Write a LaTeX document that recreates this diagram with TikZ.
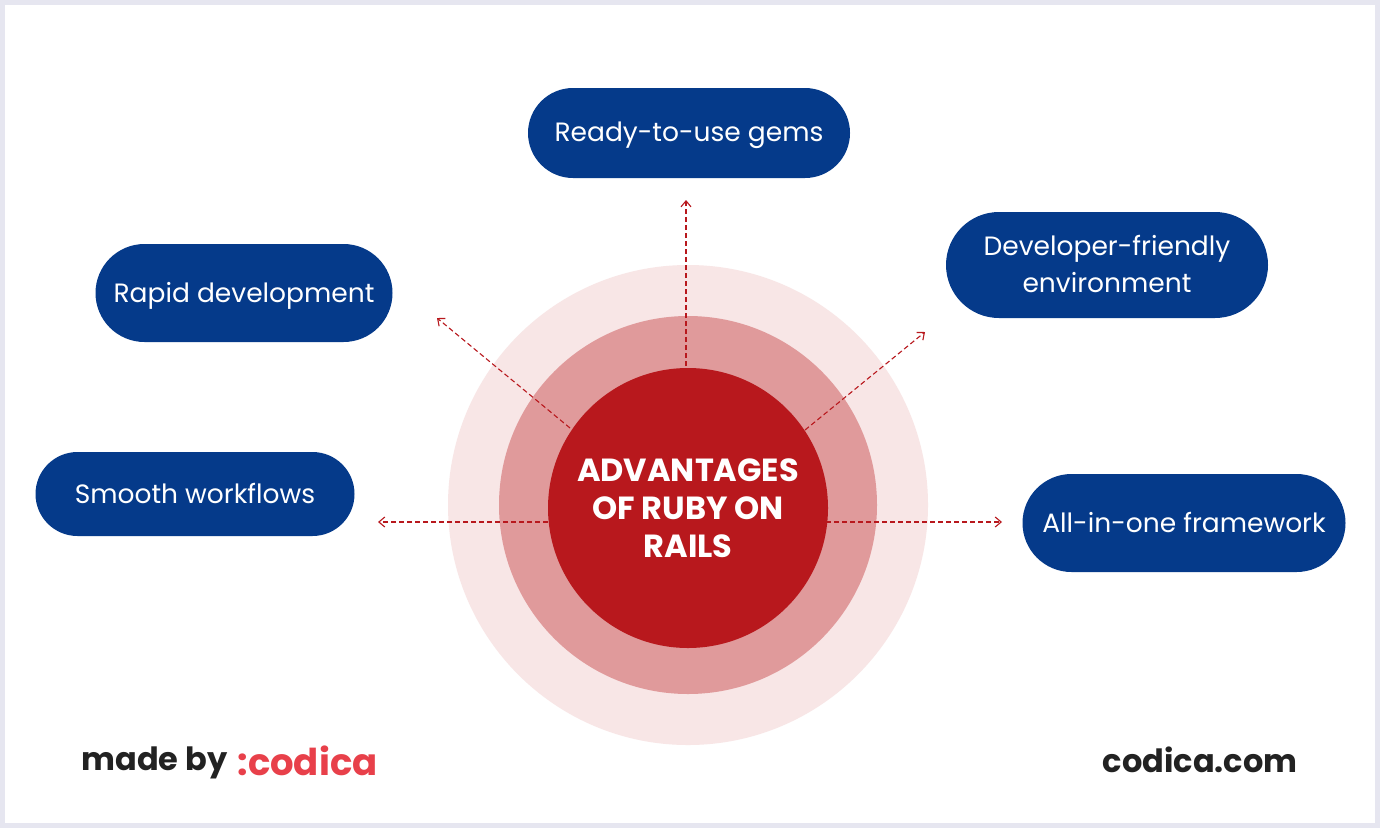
\documentclass[tikz,border=0pt]{standalone}
\usepackage{fontspec}
\setmainfont{Poppins}
\usetikzlibrary{arrows.meta}
\definecolor{frame}{HTML}{E6E6F0}
\definecolor{c1}{HTML}{F8E6E6}
\definecolor{c2}{HTML}{E09A9B}
\definecolor{c3}{HTML}{B8181D}
\definecolor{navy}{HTML}{053A8A}
\definecolor{dark}{HTML}{222222}
\definecolor{codred}{HTML}{E8404A}
\tikzset{
 pill/.style={fill=navy,rounded corners=#1,text=white,font=\fontsize{26.5}{37}\selectfont,align=center,inner sep=0pt,text depth=2pt},
 arr/.style={draw=c3,dashed,dash pattern=on 5pt off 3pt,line width=1.1pt,-{Straight Barb[length=6pt,width=10pt]}}
}
\begin{document}
\begin{tikzpicture}[x=1pt,y=-1pt]
\fill[frame] (0,0) rectangle (1380,828);
\fill[white] (5,5) rectangle (1375,823);
\node[circle,fill=c1,minimum size=480pt,inner sep=0pt] (outer) at (688,505) {};
\node[circle,fill=c2,minimum size=378pt,inner sep=0pt] (mid) at (688,505) {};
\node[circle,fill=c3,minimum size=280pt,inner sep=0pt,text=white,font=\fontsize{32}{38}\selectfont\bfseries,align=center] (core) at (688,508) {ADVANTAGES\\OF RUBY ON\\RAILS};
\node[pill=45pt,minimum width=322pt,minimum height=90pt] (gems) at (689,133) {Ready-to-use gems};
\node[pill=49pt,minimum width=297pt,minimum height=98pt] (rapid) at (244,293) {Rapid development};
\node[pill=53pt,minimum width=322pt,minimum height=106pt] (dev) at (1107,265) {Developer-friendly\\environment};
\node[pill=42pt,minimum width=319pt,minimum height=84pt] (smooth) at (195,494) {Smooth workflows};
\node[pill=49pt,minimum width=323pt,minimum height=98pt] (all) at (1184,523) {All-in-one framework};
\coordinate (eup) at (686,200);
\coordinate (elu) at (437,318);
\coordinate (eru) at (925,332);
\coordinate (el) at (378,522);
\coordinate (er) at (1002,522);
\draw[arr] (686,366) -- (eup);
\draw[arr] (570,428) -- (elu);
\draw[arr] (805,430) -- (eru);
\draw[arr] (548,522) -- (el);
\draw[arr] (826,522) -- (er);
\node[anchor=west,text=dark,font=\fontsize{32}{34}\selectfont\bfseries] (made) at (78,763) {made by};
\node[anchor=west,text=codred,font=\fontsize{37}{40}\selectfont\bfseries] (codica) at (234,761) {:codica};
\node[anchor=east,text=dark,font=\fontsize{32}{34}\selectfont\bfseries] (com) at (1301,760) {codica.com};
\end{tikzpicture}
\end{document}
